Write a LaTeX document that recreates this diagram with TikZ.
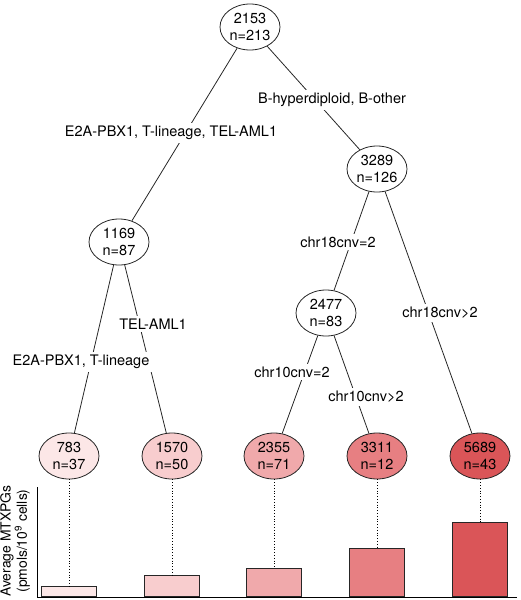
\documentclass[tikz,border=0pt]{standalone}
\usepackage{fontspec}
\setmainfont{TeX Gyre Heros}
\usetikzlibrary{shapes.geometric,positioning}

\definecolor{shadeA}{HTML}{FCE7E7}
\definecolor{shadeB}{HTML}{F8CDCE}
\definecolor{shadeC}{HTML}{F0A9AB}
\definecolor{shadeD}{HTML}{E77F82}
\definecolor{shadeE}{HTML}{DA5558}

\begin{document}
\begin{tikzpicture}[x=1pt,y=-1pt,
    split/.style={ellipse,draw=black!85,line width=0.8pt,inner sep=0pt,
      minimum width=60pt,minimum height=46pt,align=center,
      font=\fontsize{14.5}{17.5}\selectfont},
    cut/.style={fill=white,inner sep=3pt,font=\fontsize{14.5}{17}\selectfont},
    bar/.style={draw=black!85,line width=0.8pt,minimum width=55pt,
      inner sep=0pt,anchor=south},
    branch/.style={draw=black!85,line width=0.8pt}]
  \useasboundingbox (0,0) rectangle (520,600);

  % tree
  \node[split] (a) at (250,27) {2153\\n=213};
  \node[split] (b) at (119,242) {1169\\n=87};
  \node[split] (c) at (377,169) {3289\\n=126};
  \node[split] (d) at (326,313) {2477\\n=83};
  \node[split,fill=shadeA] (e) at (69,456) {783\\n=37};
  \node[split,fill=shadeB] (f) at (172,456) {1570\\n=50};
  \node[split,fill=shadeC] (g) at (274,456) {2355\\n=71};
  \node[split,fill=shadeD] (h) at (377,456) {3311\\n=12};
  \node[split,fill=shadeE] (i) at (480,456) {5689\\n=43};

  \draw[branch] (a) -- (b);
  \draw[branch] (a) -- (c);
  \draw[branch] (b) -- (e);
  \draw[branch] (b) -- (f);
  \draw[branch] (c) -- (d);
  \draw[branch] (c) -- (i);
  \draw[branch] (d) -- (g);
  \draw[branch] (d) -- (h);

  \node[cut] at (171,133) {E2A-PBX1, T-lineage, TEL-AML1};
  \node[cut] at (332,100) {B-hyperdiploid, B-other};
  \node[cut] at (338,242) {chr18cnv=2};
  \node[cut] at (440,313) {chr18cnv>2};
  \node[cut] at (81,362) {E2A-PBX1, T-lineage};
  \node[cut] at (153,324) {TEL-AML1};
  \node[cut] at (292,372) {chr10cnv=2};
  \node[cut] at (366,397) {chr10cnv>2};

  % bars
  \coordinate (o) at (37,597);
  \coordinate (top) at (37,487);
  \coordinate (end) at (517,597);
  \node[bar,fill=shadeA,minimum height=10pt] (p) at (69,597) {};
  \node[bar,fill=shadeB,minimum height=21pt] (q) at (172,597) {};
  \node[bar,fill=shadeC,minimum height=28pt] (r) at (274,597) {};
  \node[bar,fill=shadeD,minimum height=48pt] (s) at (377,597) {};
  \node[bar,fill=shadeE,minimum height=74pt] (t) at (480,597) {};
  \draw[line width=1pt] (top) -- (o) -- (end);

  \draw[dotted,line width=0.8pt] (e) -- (p);
  \draw[dotted,line width=0.8pt] (f) -- (q);
  \draw[dotted,line width=0.8pt] (g) -- (r);
  \draw[dotted,line width=0.8pt] (h) -- (s);
  \draw[dotted,line width=0.8pt] (i) -- (t);

  \node[rotate=90,align=center,font=\fontsize{13.9}{14}\selectfont] (y) at (15,541)
    {Average MTXPGs\\(pmols/10\textsuperscript{9} cells)};
\end{tikzpicture}
\end{document}
